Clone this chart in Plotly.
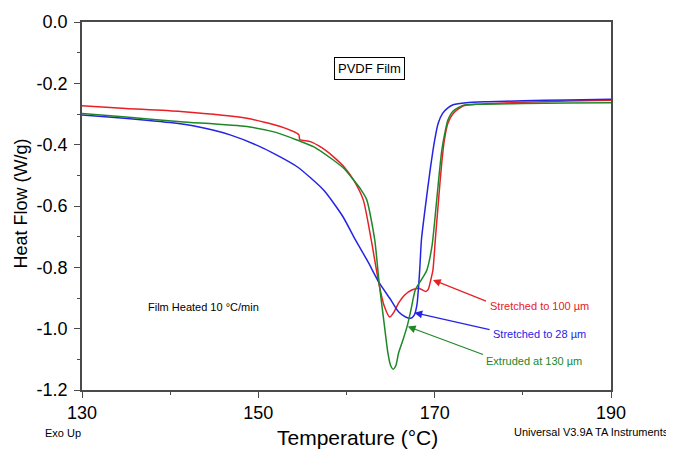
import plotly.graph_objects as go

# ---- data ----
red_x = [130, 135, 141.2, 148.7, 152.5, 154.6, 154.7, 155.9, 157.2, 158.5, 159.8, 160.8, 161.9,
         162.8, 163.7, 164.3, 164.9, 165.4, 165.9, 166.6, 167.4, 168.2, 169.0, 169.3, 169.6, 169.8,
         170.1, 170.5, 170.8, 171.1, 171.5, 172.1, 173.2, 175, 180, 185, 190]
red_y = [-0.273, -0.282, -0.292, -0.314, -0.341, -0.368, -0.383, -0.39, -0.41, -0.439, -0.475, -0.515, -0.58,
         -0.71, -0.857, -0.928, -0.962, -0.945, -0.917, -0.89, -0.874, -0.868, -0.879, -0.87, -0.836, -0.81,
         -0.70, -0.56, -0.46, -0.385, -0.33, -0.298, -0.274, -0.268, -0.262, -0.258, -0.255]

blue_x = [130, 133, 137.3, 140, 143, 146.8, 150.6, 154.4, 157.4, 159.6, 161, 162.4, 163.7, 165, 165.9,
          166.7, 167.3, 167.7, 168.0, 168.3, 168.5, 169.0, 169.5, 170, 170.4, 170.9, 171.5, 172.1, 173.6,
          176, 180, 185, 190]
blue_y = [-0.303, -0.31, -0.32, -0.328, -0.341, -0.368, -0.412, -0.472, -0.548, -0.635, -0.71, -0.78, -0.85,
          -0.905, -0.945, -0.962, -0.966, -0.955, -0.92, -0.81, -0.71, -0.59, -0.48, -0.385, -0.33, -0.298,
          -0.28, -0.27, -0.263, -0.26, -0.257, -0.254, -0.252]

green_x = [130, 135, 141.2, 148.7, 152, 154.4, 156.3, 158.5, 159.8, 160.8, 161.6, 162.3, 163.2, 163.7,
           164.3, 164.7, 165.0, 165.3, 165.6, 165.9, 166.4, 166.9, 167.3, 167.8, 168.5, 169.1, 169.7, 170.1,
           170.5, 170.8, 171.1, 171.5, 172.1, 173.2, 175, 180, 185, 190]
green_y = [-0.298, -0.31, -0.325, -0.341, -0.36, -0.385, -0.407, -0.45, -0.48, -0.515, -0.545, -0.58, -0.71,
           -0.85, -0.99, -1.08, -1.12, -1.132, -1.12, -1.08, -1.037, -0.99, -0.94, -0.874, -0.84, -0.81, -0.73,
           -0.62, -0.5, -0.42, -0.37, -0.32, -0.29, -0.272, -0.268, -0.266, -0.264, -0.263]

x_ticks = [130, 150, 170, 190]
y_ticks = [0.0, -0.2, -0.4, -0.6, -0.8, -1.0, -1.2]
y_tick_labels = ["0.0", "-0.2", "-0.4", "-0.6", "-0.8", "-1.0", "-1.2"]

labels = ["Stretched to 100 µm", "Stretched to 28 µm", "Extruded at 130 µm"]

RED = "rgb(232,32,38)"
BLUE = "rgb(36,36,230)"
GREEN = "rgb(32,135,40)"
AXC = "#4a4a4a"
FONT = "Liberation Sans, Arial, Helvetica, sans-serif"

fig = go.Figure()
for xs, ys, c, n in [(red_x, red_y, RED, labels[0]), (blue_x, blue_y, BLUE, labels[1]),
                     (green_x, green_y, GREEN, labels[2])]:
    fig.add_trace(go.Scatter(x=xs, y=ys, mode="lines", name=n,
                             line=dict(color=c, width=1.5, shape="spline", smoothing=0.6)))

# arrows (head, tail) and label positions
arrows = [
    (169.8, -0.841, 176.0, -0.912, RED),
    (167.7, -0.948, 176.4, -1.004, BLUE),
    (166.95, -0.993, 175.65, -1.086, GREEN),
]
label_pos = [(176.0, -0.926), (176.4, -1.017), (175.65, -1.104)]

annotations = []
for (hx, hy, tx, ty, c) in arrows:
    annotations.append(dict(x=hx, y=hy, ax=tx, ay=ty, xref="x", yref="y", axref="x", ayref="y",
                            text="", showarrow=True, arrowhead=2, arrowsize=1.3, arrowwidth=1.2,
                            arrowcolor=c, standoff=0, startstandoff=0))
for (lx, ly), t, c in zip(label_pos, labels, [RED, BLUE, GREEN]):
    annotations.append(dict(x=lx, y=ly, xref="x", yref="y", text=t, showarrow=False,
                            xanchor="left", yanchor="middle", font=dict(family=FONT, size=11, color=c)))

annotations += [
    dict(x=137.23, y=-0.928, xref="x", yref="y", text="Film Heated 10 °C/min", showarrow=False,
         xanchor="left", yanchor="middle", font=dict(family=FONT, size=11, color="black")),
    dict(x=162.66, y=-0.152, xref="x", yref="y", text="PVDF Film", showarrow=False,
         xanchor="center", yanchor="middle", font=dict(family=FONT, size=13, color="black"),
         bordercolor="black", borderwidth=1, borderpad=3, bgcolor="white"),
    dict(x=-0.0737, y=-0.1168, xref="paper", yref="paper", text="Exo Up", showarrow=False,
         xanchor="left", yanchor="middle", font=dict(family=FONT, size=11, color="black")),
    dict(x=1.1134, y=-0.1133, xref="paper", yref="paper", text="Universal V3.9A TA Instruments",
         showarrow=False, xanchor="right", yanchor="middle",
         font=dict(family=FONT, size=11, color="black")),
    dict(x=0.520, y=-0.1304, xref="paper", yref="paper", text="Temperature (°C)", showarrow=False,
         xanchor="center", yanchor="middle", font=dict(family=FONT, size=21, color="black")),
    dict(x=-0.1144, y=0.508, xref="paper", yref="paper", text="Heat Flow (W/g)", showarrow=False,
         textangle=-90, xanchor="center", yanchor="middle",
         font=dict(family=FONT, size=18, color="black")),
]

# the page body has an 8 px margin, so the figure is sized to fill 674x451 from there
fig.update_layout(
    width=666, height=443,
    margin=dict(l=74, r=63, t=14, b=61, autoexpand=False),
    paper_bgcolor="white", plot_bgcolor="white",
    showlegend=False,
    font=dict(family=FONT, color="black"),
    annotations=annotations,
    xaxis=dict(range=[130, 190], tickvals=x_ticks, ticktext=[str(v) for v in x_ticks],
               showgrid=False, zeroline=False, showline=True, linecolor=AXC, linewidth=1.5,
               mirror=True, ticks="outside", ticklen=6, tickcolor=AXC, tickwidth=1,
               ticklabelstandoff=0, automargin=False,
               minor=dict(dtick=10, ticks="outside", ticklen=3, tickcolor=AXC),
               tickfont=dict(family=FONT, size=18)),
    yaxis=dict(range=[-1.2, 0.0], tickvals=y_ticks, ticktext=y_tick_labels,
               showgrid=False, zeroline=False, showline=True, linecolor=AXC, linewidth=1.5,
               mirror=True, ticks="outside", ticklen=6, tickcolor=AXC, tickwidth=1,
               ticklabelstandoff=3, automargin=False,
               minor=dict(dtick=0.1, ticks="outside", ticklen=3, tickcolor=AXC),
               tickfont=dict(family=FONT, size=18)),
)

fig.write_html("out.html")
